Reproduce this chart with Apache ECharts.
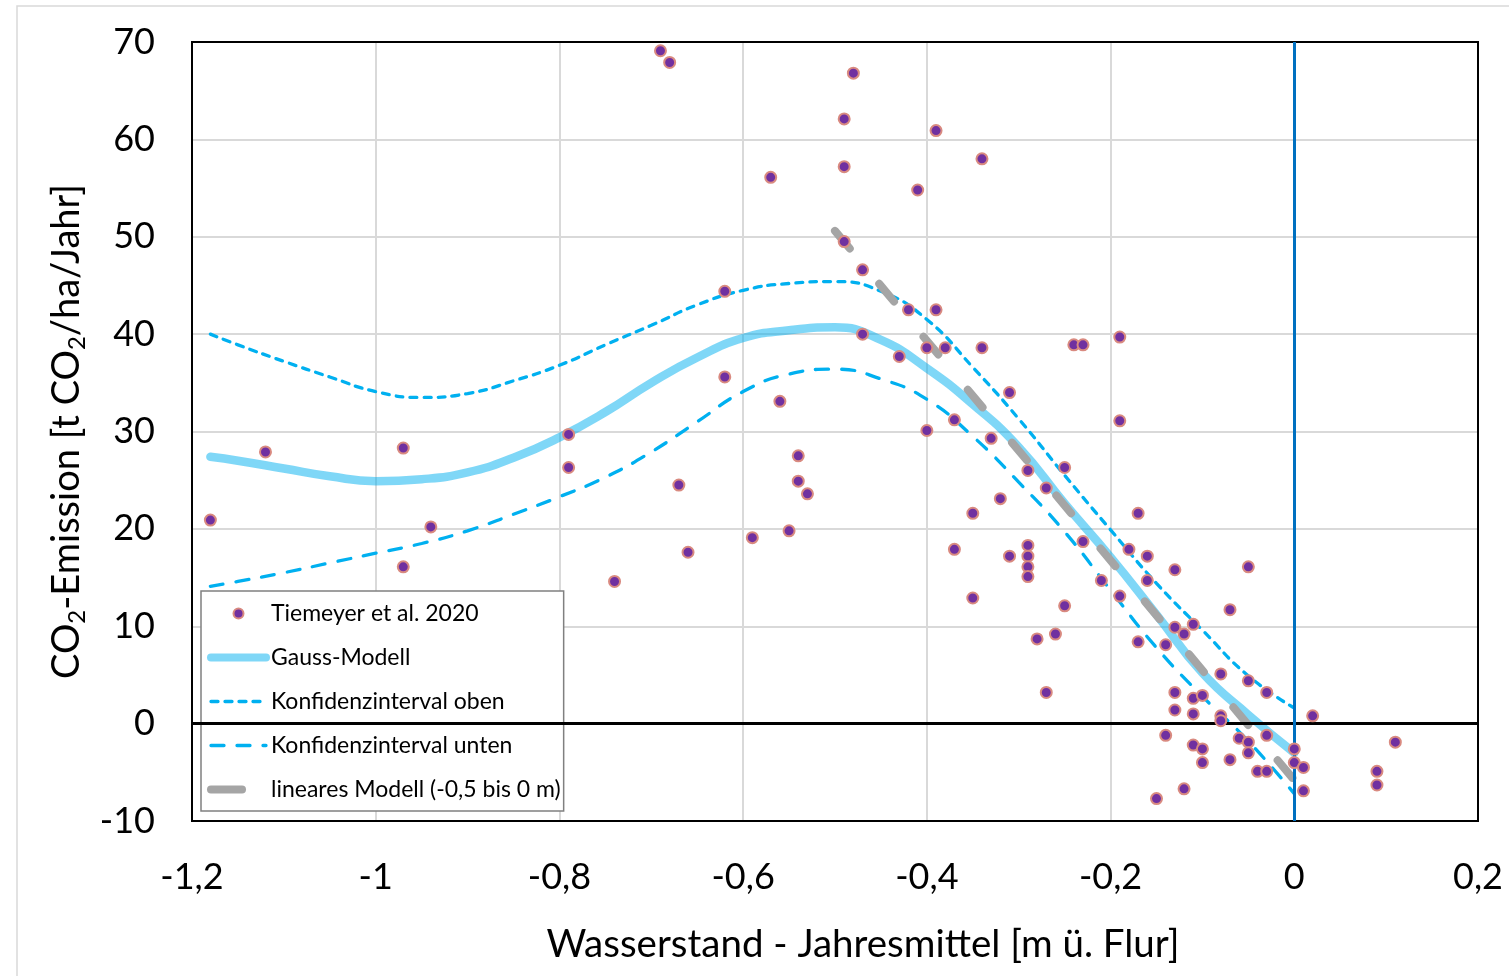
<!DOCTYPE html>
<html>
<head>
<meta charset="utf-8">
<title>CO2-Emission vs Wasserstand</title>
<script src="https://cdn.jsdelivr.net/npm/echarts@6/dist/echarts.min.js"></script>
<style>
  html, body { margin: 0; padding: 0; background: #fff; }
  #main { width: 1509px; height: 976px; }
</style>
</head>
<body>
<div id="main"></div>
<script>
// Messpunkte (Tiemeyer et al. 2020)
var scatterX = [
  -1.18, -1.12, -0.97, -0.94, -0.97, -0.79, -0.79, -0.74, -0.69, -0.68,
  -0.67, -0.66, -0.62, -0.62, -0.59, -0.57, -0.56, -0.55, -0.54, -0.54,
  -0.53, -0.49, -0.49, -0.49, -0.48, -0.47, -0.47, -0.43, -0.42, -0.41,
  -0.39, -0.39, -0.40, -0.38, -0.34, -0.34, -0.40, -0.37, -0.31, -0.33,
  -0.32, -0.35, -0.37, -0.31, -0.35, -0.24, -0.23, -0.19, -0.19, -0.29,
  -0.25, -0.27, -0.17, -0.23, -0.18, -0.16, -0.13, -0.05, -0.29, -0.29,
  -0.29, -0.29, -0.21, -0.16, -0.19, -0.07, -0.25, -0.28, -0.26, -0.27,
  -0.17, -0.13, -0.11, -0.12, -0.14, -0.08, -0.05, -0.03, -0.13, -0.11,
  -0.10, -0.13, -0.11, -0.08, -0.08, 0.02, -0.14, -0.03, -0.06, -0.05,
  -0.11, -0.10, -0.05, 0.00, -0.10, -0.07, 0.00, 0.01, -0.04, -0.03,
  -0.12, -0.15, 0.01, 0.11, 0.09, 0.09
];
var scatterY = [
  20.9, 27.9, 28.3, 20.2, 16.1, 29.7, 26.3, 14.6, 69.1, 67.9,
  24.5, 17.6, 44.4, 35.6, 19.1, 56.1, 33.1, 19.8, 27.5, 24.9,
  23.6, 62.1, 57.2, 49.5, 66.8, 46.6, 40.0, 37.7, 42.5, 54.8,
  60.9, 42.5, 38.6, 38.6, 58.0, 38.6, 30.1, 31.2, 34.0, 29.3,
  23.1, 21.6, 17.9, 17.2, 12.9, 38.9, 38.9, 39.7, 31.1, 26.0,
  26.3, 24.2, 21.6, 18.7, 17.9, 17.2, 15.8, 16.1, 18.3, 17.2,
  16.1, 15.1, 14.7, 14.7, 13.1, 11.7, 12.1, 8.7, 9.2, 3.2,
  8.4, 9.9, 10.2, 9.2, 8.1, 5.1, 4.4, 3.2, 3.2, 2.6,
  2.9, 1.4, 1.0, 0.8, 0.3, 0.8, -1.2, -1.2, -1.5, -1.9,
  -2.2, -2.6, -3.0, -2.6, -4.0, -3.7, -4.0, -4.5, -4.9, -4.9,
  -6.7, -7.7, -6.9, -1.9, -4.9, -6.3
];

var curveX = [-1.18, -1.15, -1.1, -1.05, -1, -0.95, -0.9, -0.85, -0.8, -0.75, -0.7, -0.65, -0.6,
  -0.55, -0.5, -0.45, -0.4, -0.35, -0.3, -0.25, -0.2, -0.15, -0.1, -0.05, 0];
var gaussY = [27.4, 27.0, 26.2, 25.4, 24.9, 25.1, 25.8, 27.3, 29.4, 32.0, 35.0, 37.6, 39.6,
  40.4, 40.7, 39.4, 36.5, 32.8, 28.4, 22.6, 17.1, 11.2, 5.2, 0.9, -3.0];
var upperY = [40.0, 38.9, 37.2, 35.6, 34.1, 33.5, 33.9, 35.2, 36.8, 38.9, 40.9, 43.0, 44.5,
  45.2, 45.4, 44.4, 41.5, 36.6, 31.3, 25.5, 19.9, 14.4, 9.6, 4.9, 1.6];
var lowerY = [14.1, 14.6, 15.5, 16.5, 17.5, 18.5, 19.8, 21.5, 23.3, 25.3, 27.9, 31.0, 34.1,
  35.9, 36.4, 35.4, 33.3, 29.5, 24.8, 19.7, 13.7, 7.8, 2.8, -1.8, -7.2];
var linX = [-0.5, 0];
var linY = [50.6, -5.8];

var names = ['Tiemeyer et al. 2020', 'Gauss-Modell', 'Konfidenzinterval oben', 'Konfidenzinterval unten', 'lineares Modell (-0,5 bis 0 m)'];

function pairs(xs, ys) {
  var out = [];
  for (var i = 0; i < xs.length; i++) {
    out.push([xs[i], ys[i]]);
  }
  return out;
}

function komma(v) {
  return String(Math.round(v * 10) / 10).replace('.', ',');
}

var font = 'Lato';
var noDot = 'rgba(0,0,0,0)';
var myChart = echarts.init(document.getElementById('main'));

myChart.setOption({
  animation: false,
  backgroundColor: '#fff',
  textStyle: { fontFamily: font },
  graphic: [{
    type: 'rect',
    silent: true,
    shape: { x: 17, y: 6, width: 1520, height: 1000 },
    style: { fill: 'none', stroke: '#d9d9d9', lineWidth: 1.5 }
  }],
  grid: {
    left: 192, right: 31, top: 42, bottom: 155,
    show: true, z: 1, borderColor: '#000', borderWidth: 2, backgroundColor: 'transparent'
  },
  legend: {
    orient: 'vertical',
    left: 201, top: 591,
    padding: [11, 3, 10, 6],
    itemGap: 21,
    itemWidth: 55,
    itemHeight: 10,
    backgroundColor: '#fff',
    borderColor: '#808080',
    borderWidth: 1.5,
    textStyle: { fontFamily: font, fontSize: 23, color: '#000' },
    data: [
      { name: names[0], icon: 'circle' },
      { name: names[1], lineStyle: { width: 8, cap: 'round' }, itemStyle: { opacity: 0 } },
      { name: names[2], lineStyle: { width: 3.3, type: [7, 7], cap: 'round' }, itemStyle: { opacity: 0 } },
      { name: names[3], lineStyle: { width: 3.3, type: [13, 13], cap: 'round' }, itemStyle: { opacity: 0 } },
      { name: names[4], lineStyle: { width: 8, type: [31, 40], cap: 'round' }, itemStyle: { opacity: 0 } }
    ]
  },
  xAxis: {
    type: 'value',
    min: -1.2, max: 0.2, interval: 0.2,
    axisLine: { show: false },
    axisTick: { show: false },
    splitLine: { lineStyle: { color: '#d9d9d9', width: 2 } },
    axisLabel: { fontFamily: font, fontSize: 36, color: '#000', margin: 38, formatter: komma },
    name: 'Wasserstand - Jahresmittel [m ü. Flur]',
    nameLocation: 'middle',
    nameGap: 104,
    nameTextStyle: { fontFamily: font, fontSize: 38.5, color: '#000', padding: [0, 0, 0, 56] }
  },
  yAxis: {
    type: 'value',
    min: -10, max: 70, interval: 10,
    axisLine: { show: false },
    axisTick: { show: false },
    splitLine: { lineStyle: { color: '#d9d9d9', width: 2 } },
    axisLabel: { fontFamily: font, fontSize: 36, color: '#000', margin: 37 },
    name: '{a|CO}{b|2}{a|-Emission [t CO}{b|2}{a|/ha/Jahr]}',
    nameLocation: 'middle',
    nameRotate: 90,
    nameGap: 97,
    nameTextStyle: {
      rich: {
        a: { fontFamily: font, fontSize: 38, color: '#000', lineHeight: 44 },
        b: { fontFamily: font, fontSize: 24, color: '#000', lineHeight: 24, verticalAlign: 'bottom' }
      }
    }
  },
  series: [
    {
      name: 'nulllinien',
      type: 'line',
      data: [],
      silent: true,
      z: 2,
      markLine: {
        silent: true,
        symbol: 'none',
        label: { show: false },
        data: [
          { yAxis: 0, lineStyle: { color: '#000', width: 3, type: 'solid' } },
          { xAxis: 0, lineStyle: { color: '#0070C0', width: 3, type: 'solid' } }
        ]
      }
    },
    {
      name: names[1],
      type: 'line',
      smooth: 0.5,
      symbol: 'none',
      z: 3,
      data: pairs(curveX, gaussY),
      lineStyle: { color: 'rgba(0,176,240,0.5)', width: 8.5, cap: 'round' },
      itemStyle: { color: noDot }
    },
    {
      name: names[2],
      type: 'line',
      smooth: 0.5,
      symbol: 'none',
      z: 3,
      data: pairs(curveX, upperY),
      lineStyle: { color: '#00B0F0', width: 3.3, type: [7, 7], cap: 'round' },
      itemStyle: { color: noDot }
    },
    {
      name: names[3],
      type: 'line',
      smooth: 0.5,
      symbol: 'none',
      z: 3,
      data: pairs(curveX, lowerY),
      lineStyle: { color: '#00B0F0', width: 3.3, type: [13, 13], cap: 'round' },
      itemStyle: { color: noDot }
    },
    {
      name: names[4],
      type: 'line',
      symbol: 'none',
      z: 4,
      data: pairs(linX, linY),
      lineStyle: { color: '#A5A5A5', width: 8, type: [23, 46], cap: 'round' },
      itemStyle: { color: noDot }
    },
    {
      name: names[0],
      type: 'scatter',
      symbol: 'circle',
      symbolSize: 11,
      z: 5,
      data: pairs(scatterX, scatterY),
      itemStyle: { color: '#7030A0', borderColor: '#d98a80', borderWidth: 2, opacity: 1 }
    }
  ]
});
</script>
</body>
</html>
